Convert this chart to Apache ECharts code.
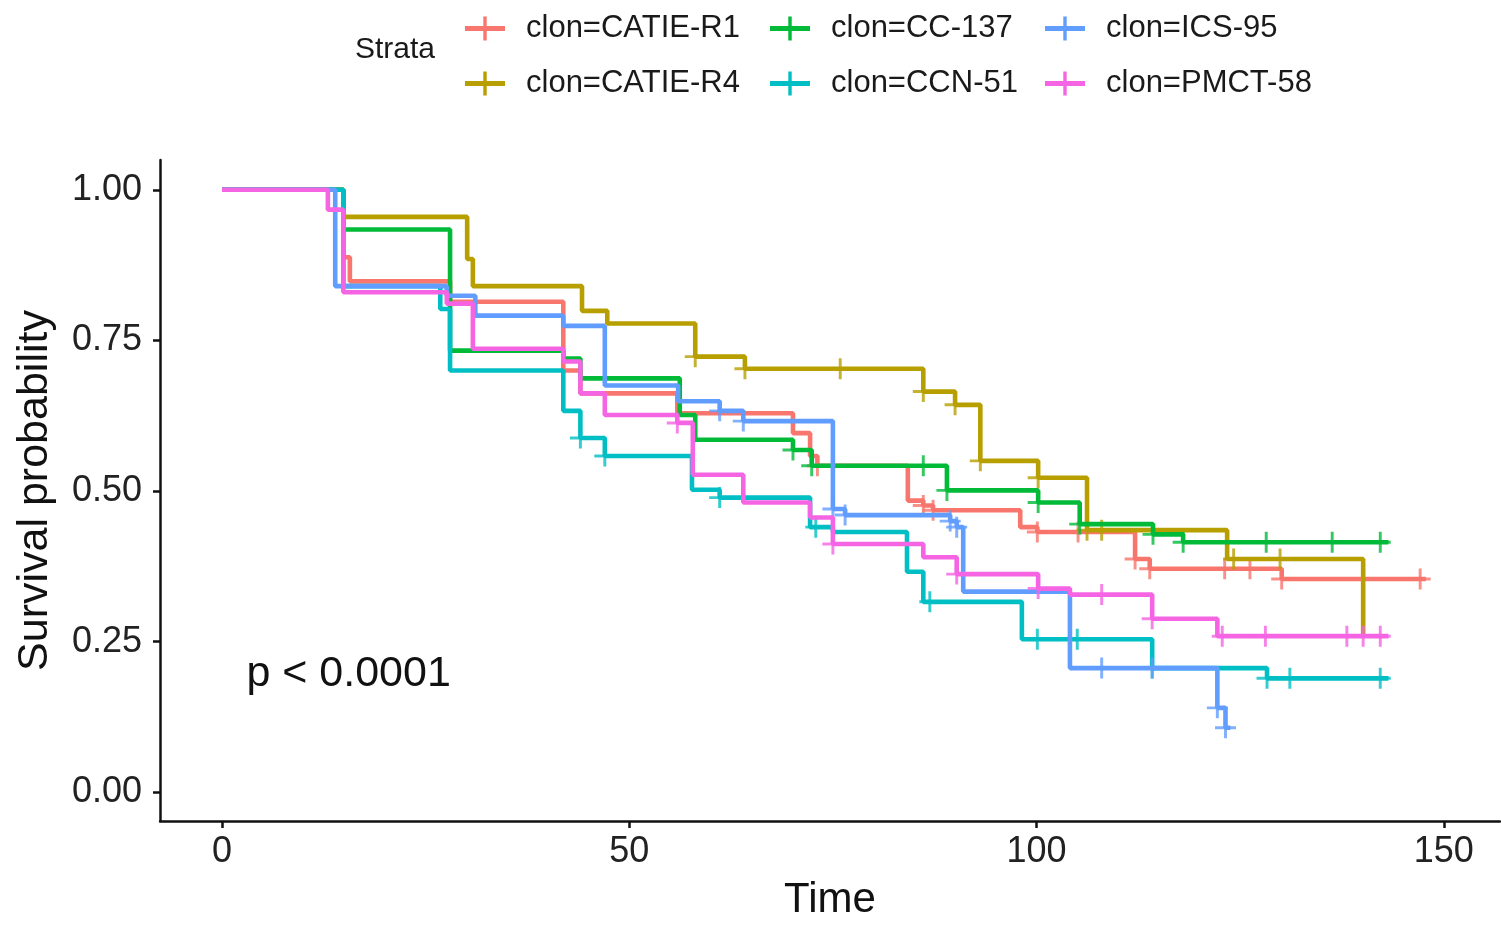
<!DOCTYPE html>
<html>
<head>
<meta charset="utf-8">
<script src="https://cdn.jsdelivr.net/npm/echarts@6.0.0/dist/echarts.min.js"></script>
<style>
  html, body { margin: 0; padding: 0; background: #fff; }
  #chart { width: 1501px; height: 926px; }
</style>
</head>
<body>
<div id="chart"></div>
<script>
// Kaplan-Meier curves: event times, survival after each, censor times
const names = ['clon=CATIE-R1', 'clon=CATIE-R4', 'clon=CC-137', 'clon=CCN-51', 'clon=ICS-95', 'clon=PMCT-58'];
const colors = ['#F8766D', '#B79F00', '#00BA38', '#00BFC4', '#619CFF', '#F564E3'];

const r1Time = [0, 14.9, 15.7, 28, 41.9, 44, 55.9, 70.1, 72.2, 73.1, 84.2, 86.1, 87.3, 98, 100.1, 112.1, 113.9, 130.1, 147.8];
const r1Surv = [1, 0.888, 0.848, 0.814, 0.70, 0.662, 0.629, 0.596, 0.558, 0.542, 0.484, 0.476, 0.468, 0.44, 0.432, 0.387, 0.371, 0.354, 0.354];
const r1Cens = [73.1, 86.1, 87.3, 100.1, 105.1, 112.1, 113.9, 123.1, 126.2, 130.1, 147.1];

const r4Time = [0, 14.9, 30.1, 30.8, 44.2, 47.3, 58.1, 64.2, 86.1, 90, 93.1, 100.2, 106.2, 123.4, 140.1];
const r4Surv = [1, 0.955, 0.885, 0.84, 0.799, 0.778, 0.723, 0.703, 0.665, 0.643, 0.55, 0.522, 0.435, 0.387, 0.259];
const r4Cens = [58.1, 64.2, 75.9, 86.1, 90, 93.1, 100.2, 106.2, 108, 124.2, 129.9];

const cc137Time = [0, 14.9, 28, 41.9, 44, 56.2, 58.1, 70.1, 72.4, 89, 100.2, 105.3, 114.3, 118, 143.2];
const cc137Surv = [1, 0.934, 0.733, 0.72, 0.687, 0.626, 0.585, 0.568, 0.542, 0.501, 0.481, 0.445, 0.428, 0.415, 0.415];
const cc137Cens = [70.1, 72.4, 86.1, 89, 100.2, 105.3, 114.3, 118, 128.2, 136.3, 142.2];

const ccn51Time = [0, 14.9, 26.8, 28, 41.9, 44, 47, 57.7, 61.1, 72.2, 75, 84.1, 86.1, 98.2, 114.2, 128.3, 143.2];
const ccn51Surv = [1, 0.84, 0.802, 0.70, 0.633, 0.588, 0.558, 0.502, 0.489, 0.44, 0.432, 0.366, 0.316, 0.254, 0.206, 0.189, 0.189];
const ccn51Cens = [44, 47, 61.1, 72.9, 86.9, 100.1, 105, 114.2, 128.3, 131.1, 142.2];

const ics95Time = [0, 13.9, 27.6, 31.1, 41.9, 47, 56, 61.1, 64, 75, 76.5, 89.4, 90.2, 91, 104.1, 122.2, 123.2, 123.8];
const ics95Surv = [1, 0.84, 0.824, 0.791, 0.774, 0.675, 0.649, 0.633, 0.616, 0.47, 0.46, 0.45, 0.44, 0.333, 0.206, 0.14, 0.107, 0.107];
const ics95Cens = [61.1, 64, 75, 76.5, 89.4, 90.2, 108, 114.2, 122.2, 123.2];

const pmctTime = [0, 13, 14.9, 27.6, 30.8, 41.9, 44, 47, 55.9, 57.8, 64, 72.2, 75, 86.1, 90.2, 100.2, 104.1, 114.2, 122.2, 143.2];
const pmctSurv = [1, 0.967, 0.83, 0.811, 0.736, 0.715, 0.662, 0.626, 0.613, 0.527, 0.481, 0.456, 0.412, 0.39, 0.362, 0.338, 0.328, 0.288, 0.259, 0.259];
const pmctCens = [55.9, 75, 90.2, 100.2, 108, 114.2, 122.8, 128.1, 138.1, 140.1, 142.2];

const xTicks = [0, 50, 100, 150];
const yTicks = [0, 0.25, 0.5, 0.75, 1];

const curves = [
  [r1Time, r1Surv, r1Cens],
  [r4Time, r4Surv, r4Cens],
  [cc137Time, cc137Surv, cc137Cens],
  [ccn51Time, ccn51Surv, ccn51Cens],
  [ics95Time, ics95Surv, ics95Cens],
  [pmctTime, pmctSurv, pmctCens]
];

// survival value at time t (value after the last event at or before t)
function survAt(times, surv, t) {
  let v = surv[0];
  for (let i = 0; i < times.length; i++) {
    if (times[i] <= t + 1e-9) v = surv[i];
  }
  return v;
}

const font = '"Liberation Sans", Arial, sans-serif';
const crossIcon = 'path://M0,9.5h40v5h-40z M18.3,0h3.4v24h-3.4z';
const censorMark = 'path://M0,8.6h20v2.8h-20z M8.6,0h2.8v20h-2.8z';

const series = [];
curves.forEach((c, i) => {
  series.push({
    name: names[i],
    type: 'line',
    step: 'end',
    showSymbol: false,
    data: c[0].map((t, j) => [t, c[1][j]]),
    lineStyle: { color: colors[i], width: 4.6 },
    itemStyle: { color: colors[i] },
    z: 2 + i
  });
});
curves.forEach((c, i) => {
  series.push({
    name: names[i],
    type: 'scatter',
    symbol: censorMark,
    symbolSize: 21,
    data: c[2].map(t => [t, survAt(c[0], c[1], t)]),
    itemStyle: { color: colors[i] },
    z: 2 + i
  });
});

const legendBase = {
  orient: 'vertical',
  top: 8,
  icon: crossIcon,
  itemWidth: 40,
  itemHeight: 24,
  itemGap: 24,
  itemStyle: { borderWidth: 0 },
  selectedMode: false,
  formatter: name => '{t|' + name + '}',
  textStyle: {
    rich: { t: { fontFamily: font, fontSize: 31, color: '#1a1a1a', lineHeight: 30, padding: [0, 0, 0, 16] } }
  }
};

const chart = echarts.init(document.getElementById('chart'));

const strataLabel = {
  type: 'text',
  left: 355,
  top: 35,
  style: { text: 'Strata', font: '30px ' + font, fill: '#1a1a1a' }
};

const option = {
  animation: false,
  backgroundColor: '#ffffff',
  grid: { left: 160, right: 1, top: 160, bottom: 96 },
  legend: [
    Object.assign({}, legendBase, { left: 460, data: [names[0], names[1]] }),
    Object.assign({}, legendBase, { left: 765, data: [names[2], names[3]] }),
    Object.assign({}, legendBase, { left: 1040, data: [names[4], names[5]] })
  ],
  xAxis: {
    type: 'value',
    min: -7.61,
    max: 156.9,
    name: 'Time',
    nameLocation: 'middle',
    nameGap: 58,
    nameTextStyle: { fontFamily: font, fontSize: 42, color: '#111' },
    splitLine: { show: false },
    axisLine: { onZero: false, lineStyle: { color: '#111', width: 2.5 } },
    axisTick: { customValues: xTicks, length: 7, lineStyle: { color: '#111', width: 2.5 } },
    axisLabel: { customValues: xTicks, margin: 13, fontFamily: font, fontSize: 36, color: '#222' }
  },
  yAxis: {
    type: 'value',
    min: -0.0478,
    max: 1.0494,
    name: 'Survival probability',
    nameLocation: 'middle',
    nameGap: 103,
    nameTextStyle: { fontFamily: font, fontSize: 43, color: '#111' },
    splitLine: { show: false },
    axisLine: { show: true, onZero: false, lineStyle: { color: '#111', width: 2.5 } },
    axisTick: { show: true, customValues: yTicks, length: 7, lineStyle: { color: '#111', width: 2.5 } },
    axisLabel: {
      customValues: yTicks,
      margin: 18,
      fontFamily: font,
      fontSize: 36,
      color: '#222',
      formatter: v => v.toFixed(2)
    }
  },
  graphic: [strataLabel],
  series: series
};

chart.setOption(option);

// p-value annotation placed in data space
const pPos = chart.convertToPixel({ gridIndex: 0 }, [3, 0.196]);
chart.setOption({
  graphic: [
    strataLabel,
    {
      type: 'text',
      x: pPos[0],
      y: pPos[1],
      style: { text: 'p < 0.0001', font: '43px ' + font, fill: '#111', verticalAlign: 'middle' }
    }
  ]
});
</script>
</body>
</html>
